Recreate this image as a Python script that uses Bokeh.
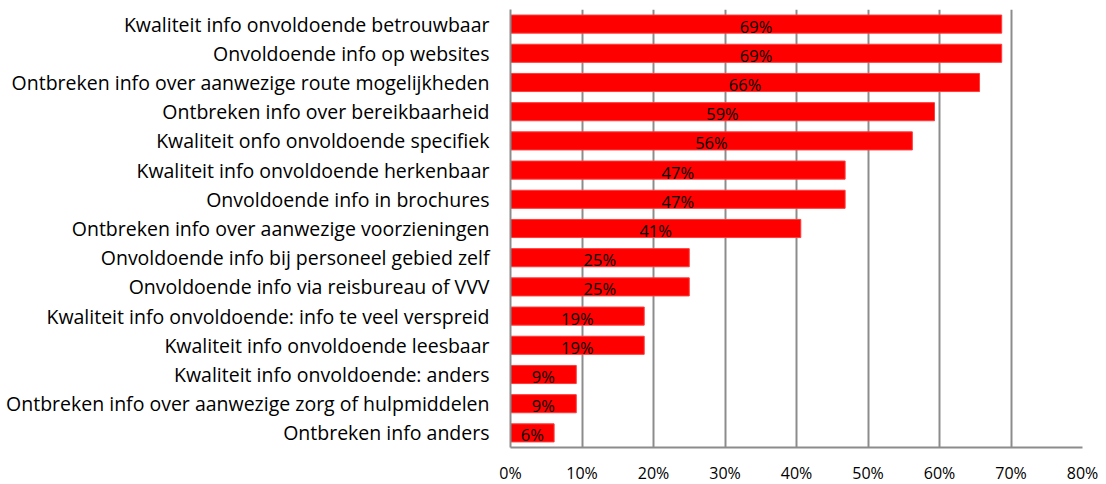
from bokeh.plotting import figure
from bokeh.models import FactorRange, Range1d, FixedTicker, PrintfTickFormatter, ColumnDataSource
from bokeh.core.properties import value
from bokeh.embed import file_html
from bokeh.resources import INLINE

categories = [
    "Kwaliteit info onvoldoende betrouwbaar",
    "Onvoldoende info op websites",
    "Ontbreken info over aanwezige route mogelijkheden",
    "Ontbreken info over bereikbaarheid",
    "Kwaliteit onfo onvoldoende specifiek",
    "Kwaliteit info onvoldoende herkenbaar",
    "Onvoldoende info in brochures",
    "Ontbreken info over aanwezige voorzieningen",
    "Onvoldoende info bij personeel gebied zelf",
    "Onvoldoende info via reisbureau of VVV",
    "Kwaliteit info onvoldoende: info te veel verspreid",
    "Kwaliteit info onvoldoende leesbaar",
    "Kwaliteit info onvoldoende: anders",
    "Ontbreken info over aanwezige zorg of hulpmiddelen",
    "Ontbreken info anders",
]
values = [68.7, 68.7, 65.6, 59.3, 56.2, 46.8, 46.8, 40.6, 25.0, 25.0, 18.7, 18.7, 9.2, 9.2, 6.1]
bar_labels = ["69%", "69%", "66%", "59%", "56%", "47%", "47%", "41%", "25%", "25%", "19%", "19%", "9%", "9%", "6%"]
x_ticks = [0, 10, 20, 30, 40, 50, 60, 70, 80]

FONT = "Open Sans"
GRID = "#8c8c8c"

src = ColumnDataSource(dict(
    cat=categories,
    val=values,
    mid=[v / 2 for v in values],
    lab=bar_labels,
))

p = figure(
    y_range=FactorRange(factors=categories[::-1], range_padding=0),
    x_range=Range1d(0, 80),
    frame_width=572, frame_height=438,
    min_border_left=510, min_border_right=20, min_border_top=9, min_border_bottom=36,
    output_backend="svg", toolbar_location=None,
    background_fill_color="white", border_fill_color="white",
)
p.outline_line_color = None

p.hbar(y="cat", left=0, right="val", height=0.62, source=src,
       fill_color="#ff0000", line_color="#ff3b3b", line_width=1)
p.text(x="mid", y="cat", text="lab", source=src, text_align="center",
       text_baseline="middle", text_font=value(FONT), text_font_size="16.5px",
       text_color="black", y_offset=2)

p.ygrid.visible = False
p.xgrid.grid_line_color = GRID
p.xgrid.grid_line_width = 2
p.xaxis.ticker = FixedTicker(ticks=x_ticks)
p.xaxis.formatter = PrintfTickFormatter(format="%d%%")

for ax in (p.xaxis, p.yaxis):
    ax.axis_line_color = GRID
    ax.axis_line_width = 2
    ax.major_tick_line_color = None
    ax.minor_tick_line_color = None
    ax.major_tick_out = 0
    ax.major_tick_in = 0
    ax.major_label_text_font = FONT
    ax.major_label_text_color = "black"

p.xaxis.major_label_text_font_size = "16px"
p.xaxis.major_label_standoff = 14
p.yaxis.major_label_text_font_size = "19.5px"
p.yaxis.major_label_standoff = 21

open("out.html", "w").write(file_html(p, INLINE))
